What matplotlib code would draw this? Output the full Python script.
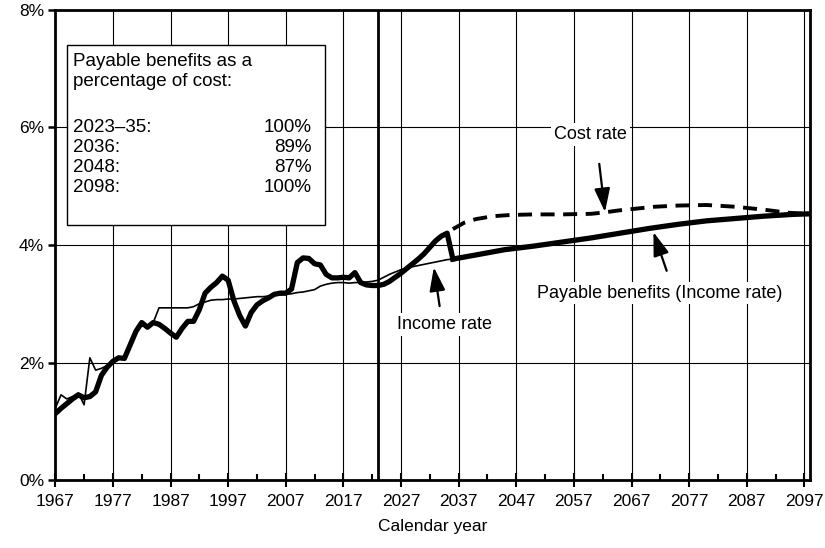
import matplotlib
matplotlib.use("Agg")
import matplotlib.pyplot as plt
from matplotlib.patches import Rectangle

plt.rcParams['font.family'] = ['Liberation Sans', 'DejaVu Sans']

# historical + projected cost rate (thick), 1967-2036
cost_years = list(range(1967, 2037))
cost_rate = [1.13, 1.22, 1.30, 1.38, 1.45, 1.40, 1.42, 1.50, 1.78, 1.92,
             2.02, 2.08, 2.07, 2.30, 2.53, 2.68, 2.60, 2.68, 2.65, 2.58,
             2.50, 2.43, 2.58, 2.70, 2.70, 2.90, 3.18, 3.28, 3.36, 3.47,
             3.40, 3.05, 2.80, 2.62, 2.85, 2.98, 3.05, 3.10, 3.16, 3.18,
             3.18, 3.25, 3.70, 3.78, 3.77, 3.68, 3.66, 3.50, 3.44, 3.44,
             3.45, 3.44, 3.53, 3.36, 3.32, 3.31, 3.31, 3.33, 3.38, 3.45,
             3.52, 3.60, 3.68, 3.76, 3.85, 3.96, 4.07, 4.15, 4.20, 3.76]

# income rate (thin), 1967-2036
income_years = list(range(1967, 2037))
income_rate = [1.22, 1.45, 1.38, 1.42, 1.48, 1.28, 2.08, 1.87, 1.90, 1.95,
               2.00, 2.06, 2.10, 2.35, 2.55, 2.62, 2.62, 2.68, 2.93, 2.93,
               2.93, 2.93, 2.93, 2.93, 2.95, 3.00, 3.03, 3.06, 3.07, 3.07,
               3.08, 3.08, 3.09, 3.10, 3.11, 3.12, 3.12, 3.13, 3.14, 3.15,
               3.16, 3.17, 3.19, 3.20, 3.22, 3.24, 3.30, 3.33, 3.35, 3.36,
               3.36, 3.35, 3.36, 3.36, 3.37, 3.38, 3.40, 3.45, 3.50, 3.54,
               3.58, 3.61, 3.63, 3.65, 3.67, 3.69, 3.71, 3.73, 3.75, 3.76]

# payable benefits after depletion (thick)
pay_years = [2036, 2040, 2045, 2050, 2055, 2060, 2065, 2070, 2075, 2080, 2085, 2090, 2095, 2098]
pay_rate = [3.76, 3.83, 3.92, 3.98, 4.05, 4.12, 4.20, 4.28, 4.35, 4.41, 4.45, 4.49, 4.52, 4.53]

# projected cost rate after depletion (dashed)
proj_years = [2036, 2038, 2040, 2043, 2046, 2050, 2055, 2060, 2062, 2065, 2068, 2071,
              2075, 2080, 2085, 2090, 2094, 2097]
proj_cost = [4.27, 4.38, 4.44, 4.49, 4.51, 4.52, 4.52, 4.53, 4.55, 4.59, 4.62, 4.65,
             4.67, 4.68, 4.65, 4.60, 4.55, 4.53]

x_ticks = list(range(1967, 2098, 10))
y_ticks = [0, 2, 4, 6, 8]
y_labels = ['0%', '2%', '4%', '6%', '8%']

box_years = ['2023\u201335:', '2036:', '2048:', '2098:']
box_pcts = ['100%', '89%', '87%', '100%']

fig = plt.figure(figsize=(8.25, 5.48), dpi=100)
ax = fig.add_axes([0.067, 0.124, 0.915, 0.858])

ax.set_xlim(1967, 2098)
ax.set_ylim(0, 8)

ax.set_xticks(x_ticks)
ax.set_xticks(list(range(1972, 2098, 10)), minor=True)
ax.set_yticks(y_ticks)
ax.set_yticklabels(y_labels)
ax.tick_params(axis='x', which='major', direction='inout', length=10, width=1.5, labelsize=12.5, pad=5)
ax.tick_params(axis='x', which='minor', direction='in', length=4, width=1.5)
ax.tick_params(axis='y', direction='out', length=5, width=1.8, labelsize=12.5, pad=3)
ax.grid(True, which='major', color='black', lw=0.8)
for s in ax.spines.values():
    s.set_linewidth(2)
ax.set_xlabel('Calendar year', fontsize=12.5, labelpad=7)

ax.axvline(2023, color='black', lw=2)

ax.plot(income_years, income_rate, color='black', lw=1.2)
ax.plot(cost_years, cost_rate, color='black', lw=3.8, solid_joinstyle='round')
ax.plot(pay_years, pay_rate, color='black', lw=3.8)
ax.plot(proj_years, proj_cost, color='black', lw=2.8, ls=(0, (3.6, 2.2)))

# text box
ax.add_patch(Rectangle((0.0155, 0.543), 0.3415, 0.382, transform=ax.transAxes,
                       facecolor='white', edgecolor='black', lw=1, zorder=5))
ax.text(0.024, 0.8895, 'Payable benefits as a', transform=ax.transAxes, fontsize=13.5,
        va='center', zorder=6)
ax.text(0.024, 0.847, 'percentage of cost:', transform=ax.transAxes, fontsize=13.5,
        va='center', zorder=6)
row_y = [0.7506, 0.708, 0.665, 0.622]
for yy, lab, pct in zip(row_y, box_years, box_pcts):
    ax.text(0.024, yy, lab, transform=ax.transAxes, fontsize=13.5, va='center', zorder=6)
    ax.text(0.3397, yy, pct, transform=ax.transAxes, fontsize=13.5, va='center', ha='right', zorder=6)

# annotations
bb = dict(facecolor='white', edgecolor='none', pad=2)
arrow = dict(arrowstyle='-|>,head_length=0.6,head_width=0.2', color='black', lw=1.6,
             mutation_scale=24, shrinkA=0, shrinkB=0)
ax.text(2059.9, 5.88, 'Cost rate', fontsize=13, ha='center', va='center', bbox=bb)
ax.annotate('', xy=(2062.4, 4.56), xytext=(2061.4, 5.38), arrowprops=arrow)
ax.text(2071.9, 3.18, 'Payable benefits (Income rate)', fontsize=13, ha='center', va='center', bbox=bb)
ax.annotate('', xy=(2070.8, 4.22), xytext=(2073.1, 3.56), arrowprops=arrow)
ax.text(2034.5, 2.65, 'Income rate', fontsize=13, ha='center', va='center', bbox=bb)
ax.annotate('', xy=(2032.7, 3.62), xytext=(2033.7, 2.96), arrowprops=arrow)

fig.savefig('out.png', dpi=100)
